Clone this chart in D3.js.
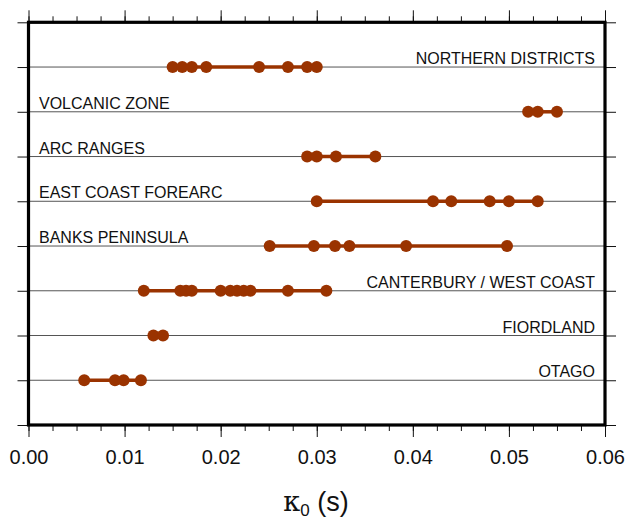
<!DOCTYPE html>
<meta charset="utf-8">
<title>Kappa0 by region</title>
<style>
body { margin: 0; background: #fff; }
text { font-family: "Liberation Sans", Arial, sans-serif; fill: #111; }
</style>
<body>
<script src="https://cdn.jsdelivr.net/npm/d3@7"></script>
<script>
var w = 626, h = 521;

// regions, top to bottom
var regions = ["NORTHERN DISTRICTS", "VOLCANIC ZONE", "ARC RANGES", "EAST COAST FOREARC",
               "BANKS PENINSULA", "CANTERBURY / WEST COAST", "FIORDLAND", "OTAGO"];
var labelSide = ["right", "left", "left", "left", "left", "right", "right", "right"];

// kappa0 estimates (s) for each region
var northern   = [0.0150, 0.0160, 0.0170, 0.0185, 0.0240, 0.0270, 0.0290, 0.0300];
var volcanic   = [0.0520, 0.0530, 0.0550];
var arcRanges  = [0.0290, 0.0300, 0.0320, 0.0361];
var eastCoast  = [0.0300, 0.0421, 0.0440, 0.0480, 0.0500, 0.0530];
var banks      = [0.0251, 0.0297, 0.0319, 0.0334, 0.0393, 0.0498];
var canterbury = [0.0120, 0.0158, 0.0164, 0.0170, 0.0200, 0.0210, 0.0217, 0.0224, 0.0231, 0.0270, 0.0310];
var fiordland  = [0.0130, 0.0140];
var otago      = [0.0058, 0.0090, 0.0099, 0.0117];

var values = [northern, volcanic, arcRanges, eastCoast, banks, canterbury, fiordland, otago];

var xTicks = [0, 0.01, 0.02, 0.03, 0.04, 0.05, 0.06];
var xMinor = d3.range(0, 0.06001, 0.0025);

var pLeft = 28.5, pRight = 605, pTop = 22.3, pBottom = 425;
var col = "#9a3300";

var x = d3.scaleLinear().domain([0, 0.06]).range([pLeft, pRight]);
var y = d3.scaleLinear().domain([0, 9]).range([pTop, pBottom]);

var svg = d3.select("body").append("svg")
    .attr("width", w)
    .attr("height", h);

// grid lines per region
svg.selectAll("line.grid")
    .data(regions)
  .enter().append("line")
    .attr("class", "grid")
    .attr("x1", pLeft).attr("x2", pRight)
    .attr("y1", function(d, i) { return y(i + 1); })
    .attr("y2", function(d, i) { return y(i + 1); })
    .attr("stroke", "#555")
    .attr("stroke-width", 1);

// axes
var ySteps = d3.range(0, 10);
svg.append("g")
    .attr("transform", "translate(" + pLeft + ",0)")
    .call(d3.axisLeft(y).tickValues(ySteps).tickSize(11).tickFormat(""));
svg.append("g")
    .attr("transform", "translate(" + pRight + ",0)")
    .call(d3.axisRight(y).tickValues(ySteps).tickSize(11).tickFormat(""));

svg.append("g")
    .attr("transform", "translate(0," + pTop + ")")
    .call(d3.axisTop(x).tickValues(xMinor).tickSize(6).tickFormat(""));
svg.append("g")
    .attr("transform", "translate(0," + pTop + ")")
    .call(d3.axisTop(x).tickValues(xTicks).tickSize(12).tickFormat(""));
svg.append("g")
    .attr("transform", "translate(0," + pBottom + ")")
    .call(d3.axisBottom(x).tickValues(xMinor).tickSize(6).tickFormat(""));
var xb = svg.append("g")
    .attr("transform", "translate(0," + pBottom + ")")
    .call(d3.axisBottom(x).tickValues(xTicks).tickSize(12).tickFormat(d3.format(".2f")));
xb.attr("font-size", 20).attr("font-family", null);
xb.selectAll("text")
    .attr("y", 39)
    .attr("dy", 0)
    .attr("fill", "#111");

svg.selectAll(".domain").remove();
svg.selectAll(".tick line").attr("stroke", "#111");

// range lines
svg.selectAll("line.range")
    .data(values)
  .enter().append("line")
    .attr("class", "range")
    .attr("x1", function(d) { return x(d3.min(d)); })
    .attr("x2", function(d) { return x(d3.max(d)); })
    .attr("y1", function(d, i) { return y(i + 1); })
    .attr("y2", function(d, i) { return y(i + 1); })
    .attr("stroke", col)
    .attr("stroke-width", 3.5);

// dots
values.forEach(function(vals, i) {
  svg.selectAll("circle.r" + i)
      .data(vals)
    .enter().append("circle")
      .attr("class", "r" + i)
      .attr("cx", function(d) { return x(d); })
      .attr("cy", y(i + 1))
      .attr("r", 6)
      .attr("fill", col);
});

// region labels
svg.selectAll("text.region")
    .data(regions)
  .enter().append("text")
    .attr("class", "region")
    .attr("x", function(d, i) { return labelSide[i] == "left" ? 39 : 595; })
    .attr("y", function(d, i) { return y(i + 1) - 3; })
    .attr("text-anchor", function(d, i) { return labelSide[i] == "left" ? "start" : "end"; })
    .style("font-size", "16px")
    .text(function(d) { return d; });

// frame
svg.append("rect")
    .attr("x", pLeft).attr("y", pTop)
    .attr("width", pRight - pLeft).attr("height", pBottom - pTop)
    .attr("fill", "none")
    .attr("stroke", "#000")
    .attr("stroke-width", 3.2);

// axis title
var title = svg.append("text")
    .attr("x", 316)
    .attr("y", 511)
    .attr("text-anchor", "middle")
    .style("font-size", "27px");
title.append("tspan").style("font-family", "DejaVu Serif, serif").text("κ");
title.append("tspan").attr("dy", 5).style("font-size", "17px").text("0");
title.append("tspan").attr("dy", -5).text(" (s)");
</script>
